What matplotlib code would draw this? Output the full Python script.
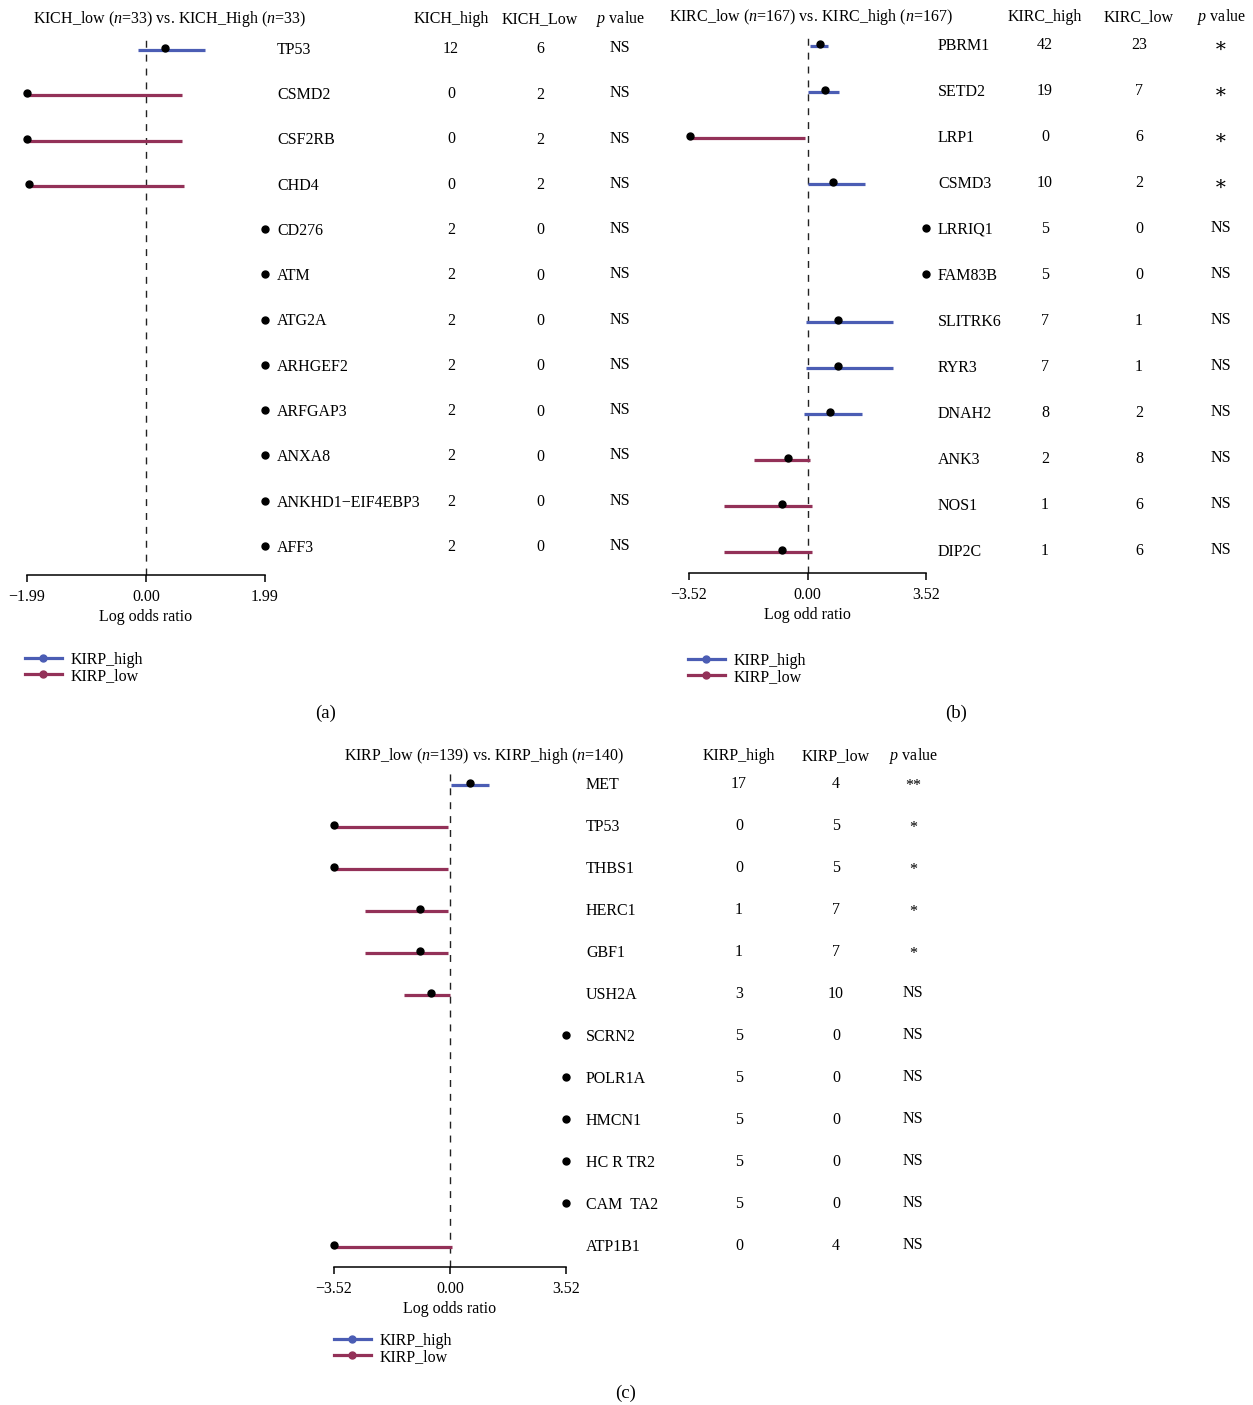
import numpy as np
import matplotlib.pyplot as plt
from matplotlib import transforms
from matplotlib.lines import Line2D

plt.rcParams['font.family'] = ['Liberation Serif', 'DejaVu Serif']
plt.rcParams['mathtext.fontset'] = 'custom'
plt.rcParams['mathtext.rm'] = 'Liberation Serif'
plt.rcParams['mathtext.it'] = 'Liberation Serif:italic'
plt.rcParams['axes.unicode_minus'] = True

BLUE = '#4b5db4'
RED = '#933158'
FS = 11.5

W, H = 1253, 1405

########################################################
# DATA
########################################################

# KICH
a_genes = ['TP53', 'CSMD2', 'CSF2RB', 'CHD4', 'CD276', 'ATM', 'ATG2A',
           'ARHGEF2', 'ARFGAP3', 'ANXA8', 'ANKHD1\u2212EIF4EBP3', 'AFF3']
a_lor = [0.31, -1.99, -1.99, -1.95, 1.99, 1.99, 1.99, 1.99, 1.99, 1.99, 1.99, 1.99]
a_lo = [-0.13, -1.99, -1.99, -1.95] + [np.nan] * 8
a_hi = [0.98, 0.61, 0.61, 0.64] + [np.nan] * 8
a_high = [12, 0, 0, 0, 2, 2, 2, 2, 2, 2, 2, 2]
a_low = [6, 2, 2, 2, 0, 0, 0, 0, 0, 0, 0, 0]
a_p = ['NS'] * 12

# KIRC
b_genes = ['PBRM1', 'SETD2', 'LRP1', 'CSMD3', 'LRRIQ1', 'FAM83B', 'SLITRK6',
           'RYR3', 'DNAH2', 'ANK3', 'NOS1', 'DIP2C']
b_lor = [0.37, 0.52, -3.49, 0.76, 3.52, 3.52, 0.90, 0.90, 0.67, -0.58, -0.76, -0.76]
b_lo = [0.07, 0.01, -3.49, 0.01, np.nan, np.nan, -0.04, -0.04, -0.10, -1.60, -2.47, -2.47]
b_hi = [0.61, 0.93, -0.07, 1.71, np.nan, np.nan, 2.54, 2.54, 1.63, 0.07, 0.13, 0.13]
b_high = [42, 19, 0, 10, 5, 5, 7, 7, 8, 2, 1, 1]
b_low = [23, 7, 6, 2, 0, 0, 1, 1, 2, 8, 6, 6]
b_p = ['\u2217'] * 4 + ['NS'] * 8

# KIRP
c_genes = ['MET', 'TP53', 'THBS1', 'HERC1', 'GBF1', 'USH2A', 'SCRN2',
           'POLR1A', 'HMCN1', 'HC R TR2', 'CAM  TA2', 'ATP1B1']
c_lor = [0.60, -3.52, -3.52, -0.91, -0.91, -0.58, 3.52, 3.52, 3.52, 3.52, 3.52, -3.52]
c_lo = [0.03, -3.52, -3.52, -2.58, -2.58, -1.40] + [np.nan] * 5 + [-3.52]
c_hi = [1.18, -0.06, -0.06, -0.06, -0.06, 0.00] + [np.nan] * 5 + [0.06]
c_high = [17, 0, 0, 1, 1, 3, 5, 5, 5, 5, 5, 0]
c_low = [4, 5, 5, 7, 7, 10, 0, 0, 0, 0, 0, 4]
c_p = ['**', '*', '*', '*', '*', 'NS', 'NS', 'NS', 'NS', 'NS', 'NS', 'NS']


########################################################
# PANEL DRAWING
########################################################

def px_rect(x0, y0, x1, y1):
    return [x0 / W, 1 - y1 / H, (x1 - x0) / W, (y1 - y0) / H]


def forest_panel(fig, lim, box, rows_px, genes, lor, lo, hi, n_high, n_low,
                 pvals, cols_px, title, col_names, xlabel, legend_px, tag):
    x0, y0, x1, y1 = box
    first, last = rows_px
    step = (last - first) / (len(genes) - 1)
    ax = fig.add_axes(px_rect(x0, y0, x1, y1))
    ax.set_xlim(-lim, lim)
    ax.set_ylim((y1 - first) / step, (y0 - first) / step)
    ax.patch.set_alpha(0)

    for s in ['top', 'right', 'left']:
        ax.spines[s].set_visible(False)
    ax.spines['bottom'].set_bounds(-lim, lim)
    ax.spines['bottom'].set_linewidth(1.1)
    ax.set_yticks([])
    ax.set_xticks([-lim, 0, lim])
    ax.set_xticklabels([f'{-lim:.2f}'.replace('-', '\u2212'), '0.00', f'{lim:.2f}'],
                       fontsize=FS)
    ax.tick_params(axis='x', length=5, width=1.1, pad=5)
    ax.set_xlabel(xlabel, fontsize=FS, labelpad=3)

    ax.axvline(0, color='#222222', lw=1, ls=(0, (5, 5)), zorder=1)

    y = np.arange(len(genes))
    for i in range(len(genes)):
        col = BLUE if lor[i] > 0 else RED
        if not np.isnan(lo[i]):
            ax.plot([lo[i], hi[i]], [y[i] + 0.045, y[i] + 0.045], color=col,
                    lw=2.3, solid_capstyle='butt', zorder=2, clip_on=False)
        ax.plot(lor[i], y[i], 'o', color='black', ms=5, zorder=3, clip_on=False)

    tr = transforms.blended_transform_factory(fig.transFigure, ax.transData)
    gx, c1, c2, c3 = cols_px
    for i in range(len(genes)):
        ax.text(gx / W, y[i] + 0.04, genes[i], transform=tr, fontsize=FS,
                ha='left', va='center')
        ax.text(c1 / W, y[i] + 0.02, str(n_high[i]), transform=tr, fontsize=FS,
                ha='center', va='center')
        ax.text(c2 / W, y[i] + 0.03, str(n_low[i]), transform=tr, fontsize=FS,
                ha='center', va='center')
        star = pvals[i] != 'NS'
        ax.text(c3 / W, y[i] + (0.08 if star else 0), pvals[i], transform=tr,
                fontsize=FS + (3 if pvals[i] == '\u2217' else 0),
                ha='center', va='center')

    head_y = 1 - (y0 - 16) / H
    fig.text(title[0] / W, head_y, title[1], fontsize=FS, ha='left', va='center')
    fig.text(c1 / W, head_y, col_names[0], fontsize=FS, ha='center', va='center')
    fig.text(c2 / W, head_y, col_names[1], fontsize=FS, ha='center', va='center')
    fig.text(c3 / W, head_y, '$p$ value', fontsize=FS, ha='center', va='center')

    handles = [Line2D([], [], color=BLUE, lw=2.3, marker='o', ms=5),
               Line2D([], [], color=RED, lw=2.3, marker='o', ms=5)]
    fig.legend(handles, ['KIRP_high', 'KIRP_low'], loc='upper left',
               bbox_to_anchor=(legend_px[0] / W, 1 - legend_px[1] / H),
               frameon=False, fontsize=FS, handlelength=2.3, handletextpad=0.55,
               labelspacing=0.0, borderpad=0, borderaxespad=0)

    fig.text(tag[1] / W, 1 - tag[2] / H, tag[0], fontsize=13.5, ha='center', va='center')
    return ax


fig = plt.figure(figsize=(W / 100, H / 100), dpi=100)

forest_panel(fig, 1.99, (27, 35, 265, 575), (48, 546),
             a_genes, a_lor, a_lo, a_hi, a_high, a_low, a_p,
             (277, 451, 540, 620),
             (33, 'KICH_low ($n$=33) vs. KICH_High ($n$=33)'),
             ('KICH_high', 'KICH_Low'), 'Log odds ratio',
             (25, 652), ('(a)', 326, 713))

forest_panel(fig, 3.52, (689, 33, 926, 573), (44, 550),
             b_genes, b_lor, b_lo, b_hi, b_high, b_low, b_p,
             (938, 1045, 1139, 1221),
             (669, 'KIRC_low ($n$=167) vs. KIRC_high ($n$=167)'),
             ('KIRC_high', 'KIRC_low'), 'Log odd ratio',
             (688, 653), ('(b)', 956, 713))

forest_panel(fig, 3.52, (334, 772, 566, 1267), (783, 1245),
             c_genes, c_lor, c_lo, c_hi, c_high, c_low, c_p,
             (586, 739, 836, 913),
             (344, 'KIRP_low ($n$=139) vs. KIRP_high ($n$=140)'),
             ('KIRP_high', 'KIRP_low'), 'Log odds ratio',
             (334, 1333), ('(c)', 626, 1393))

fig.savefig('out.png', dpi=100, facecolor='white')
